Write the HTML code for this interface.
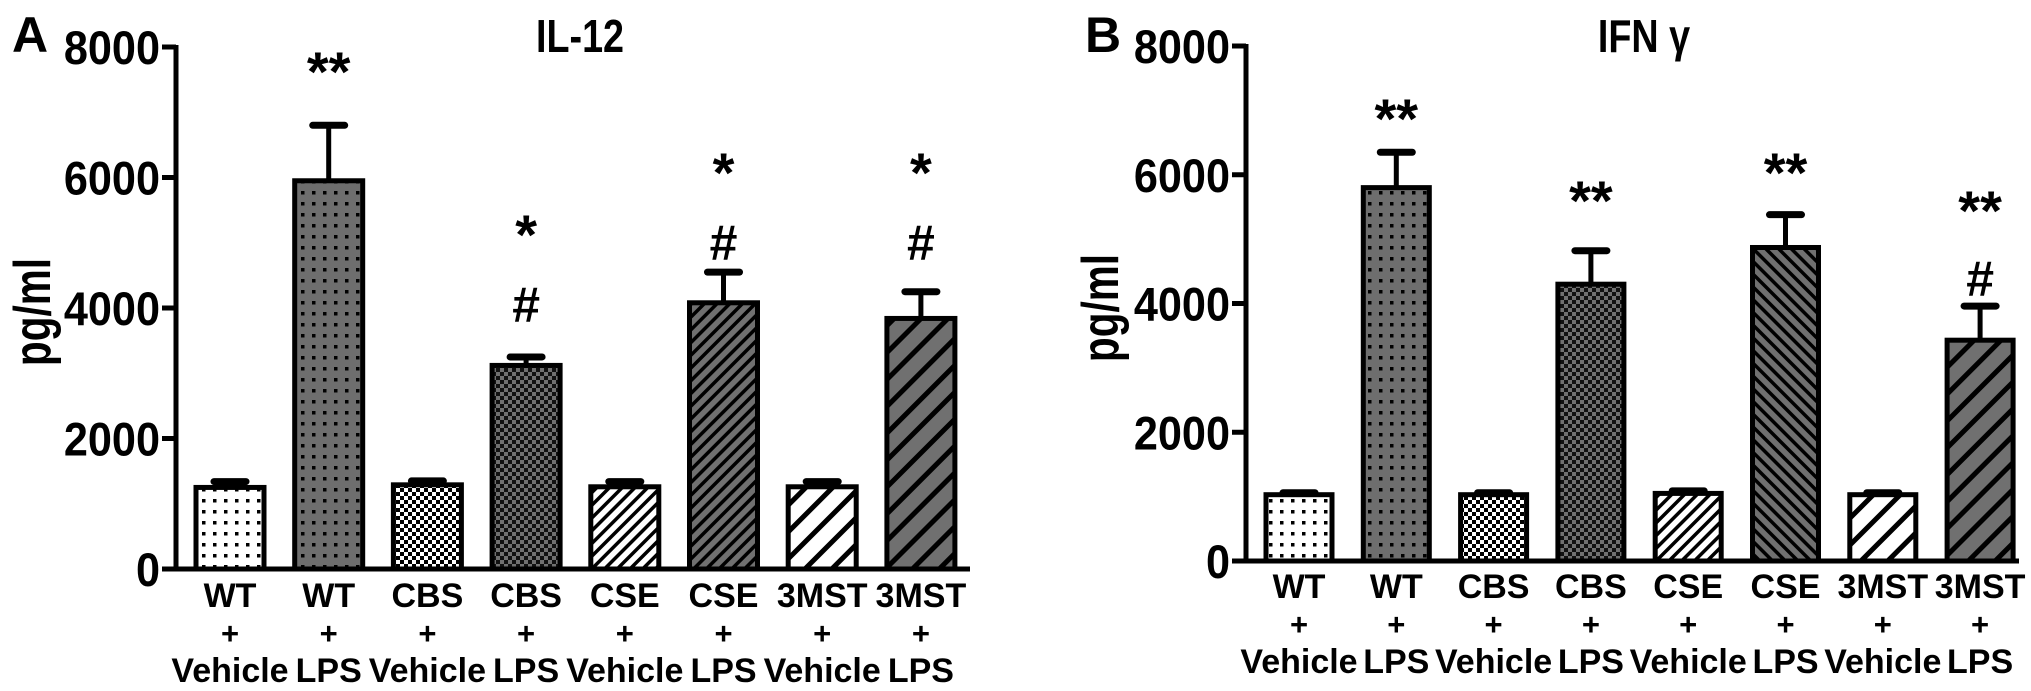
<!DOCTYPE html>
<html><head><meta charset="utf-8"><style>
html,body{margin:0;padding:0;background:#fff;}
svg{display:block;}
text{font-family:"Liberation Sans Narrow","Liberation Sans",sans-serif;font-weight:bold;fill:#000;}
</style></head><body>
<svg id="chart" width="2031" height="691" viewBox="0 0 2031 691" xmlns="http://www.w3.org/2000/svg">
<defs>
<pattern id="pDotW" width="11" height="11" patternUnits="userSpaceOnUse"><rect width="11" height="11" fill="#fff"/><rect x="4" y="4" width="3.5" height="3.5" fill="#000"/></pattern>
<pattern id="pDotG" width="11" height="11" patternUnits="userSpaceOnUse"><rect width="11" height="11" fill="#6e6e6e"/><rect x="4" y="4" width="3.5" height="3.5" fill="#000"/></pattern>
<pattern id="pChkW" width="8" height="8" patternUnits="userSpaceOnUse"><rect width="8" height="8" fill="#fff"/><rect width="4" height="4" fill="#000"/><rect x="4" y="4" width="4" height="4" fill="#000"/></pattern>
<pattern id="pChkG" width="8" height="8" patternUnits="userSpaceOnUse"><rect width="8" height="8" fill="#707070"/><rect width="4" height="4" fill="#111"/><rect x="4" y="4" width="4" height="4" fill="#111"/></pattern>
<pattern id="pFineW" width="9" height="9" patternUnits="userSpaceOnUse" patternTransform="rotate(45)"><rect width="9" height="9" fill="#fff"/><rect width="3.5" height="9" fill="#000"/></pattern>
<pattern id="pFineG" width="9" height="9" patternUnits="userSpaceOnUse" patternTransform="rotate(45)"><rect width="9" height="9" fill="#707070"/><rect width="3.5" height="9" fill="#000"/></pattern>
<pattern id="pFineGb" width="9" height="9" patternUnits="userSpaceOnUse" patternTransform="rotate(-45)"><rect width="9" height="9" fill="#707070"/><rect width="3.5" height="9" fill="#000"/></pattern>
<pattern id="pWideW" width="19" height="19" patternUnits="userSpaceOnUse" patternTransform="rotate(45)"><rect width="19" height="19" fill="#fff"/><rect width="5" height="19" fill="#000"/></pattern>
<pattern id="pWideG" width="19" height="19" patternUnits="userSpaceOnUse" patternTransform="rotate(45)"><rect width="19" height="19" fill="#707070"/><rect width="5" height="19" fill="#000"/></pattern>
</defs>
</svg>
<script>
const categories = ["WT","WT","CBS","CBS","CSE","CSE","3MST","3MST"];
const treatments = ["Vehicle","LPS","Vehicle","LPS","Vehicle","LPS","Vehicle","LPS"];
const yTicks = [0,2000,4000,6000,8000];
const il12Values = [1250,5950,1290,3120,1260,4080,1260,3840];
const il12Errors = [90,850,60,130,80,470,80,410];
const il12Stars = ["","**","","*","","*","","*"];
const il12Hash = ["","","","#","","#","","#"];
const ifnValues = [1030,5800,1030,4300,1050,4870,1030,3430];
const ifnErrors = [30,550,30,520,40,510,30,530];
const ifnStars = ["","**","","**","","**","","**"];
const ifnHash = ["","","","","","","","#"];

const svg = document.getElementById('chart');
const NS = 'http://www.w3.org/2000/svg';
function mk(tag, attrs, parent){
  const e = document.createElementNS(NS, tag);
  for (const k in attrs) e.setAttribute(k, attrs[k]);
  (parent||svg).appendChild(e); return e;
}

function drawPanel(cfg){
  const g = mk('g', {});
  
  
  const y = v => cfg.y0 - (v/8000)*(cfg.y0 - cfg.y8000);
  const x = i => cfg.x0 + i*cfg.step;
  cfg.values.forEach((v,i)=>{
    const cx = x(i), top = y(v), err = y(v + cfg.errors[i]);
    const eb = mk('g', {}, g);
    
    
    mk('line', {x1:cx, x2:cx, y1:top, y2:err, stroke:'#000','stroke-width':5}, eb);
    mk('line', {x1:cx-16, x2:cx+16, y1:err, y2:err, stroke:'#000','stroke-width':7,'stroke-linecap':'round'}, eb);
    const r = mk('rect', {x:cx-cfg.bw/2, y:top, width:cfg.bw, height:cfg.y0-top, fill:'url(#'+cfg.fills[i]+')', stroke:'#000','stroke-width':5}, g);
    
    
    const l1 = mk('text', {x:cx, y:cfg.labY, 'font-size':34, 'text-anchor':'middle'}, g); l1.textContent = categories[i];
    
    
    const l2 = mk('text', {x:cx, y:cfg.labY+37, 'font-size':31, 'text-anchor':'middle'}, g); l2.textContent = '+';
    
    
    const l3 = mk('text', {x:cx, y:cfg.labY+75, 'font-size':34, 'text-anchor':'middle'}, g); l3.textContent = treatments[i];
    
    
    if (cfg.stars[i]) {
      const s = mk('text', {x:cx, y:cfg.starY[i]+6, 'font-size':56, 'text-anchor':'middle','font-family':'Liberation Sans'}, g); s.textContent = cfg.stars[i];
      
      
    }
    if (cfg.hash[i]) {
      const h = mk('text', {x:cx, y:cfg.hashY[i]+4, 'font-size':50, 'text-anchor':'middle','font-weight':'normal','font-family':'Liberation Sans'}, g); h.textContent = cfg.hash[i];
      
      
    }
  });
  const ya = mk('line', {x1:cfg.ax, x2:cfg.ax, y1:cfg.y8000-2, y2:cfg.y0+2, stroke:'#000','stroke-width':5}, g);
  
  
  const xa = mk('line', {x1:cfg.ax-14, x2:cfg.xEnd, y1:cfg.y0, y2:cfg.y0, stroke:'#000','stroke-width':5}, g);
  
  
  yTicks.forEach(t=>{
    mk('line', {x1:cfg.ax-14, x2:cfg.ax, y1:y(t), y2:y(t), stroke:'#000','stroke-width':5}, g);
    const tl = mk('text', {x:0, y:0, 'font-size':47, 'text-anchor':'end', transform:'translate('+(cfg.ax-16)+','+(y(t)+17)+') scale(0.92,1)'}, g); tl.textContent = t;
    
    
  });
  const yl = mk('text', {x:0, y:0, 'font-size':52, 'text-anchor':'middle','font-family':'Liberation Sans', transform:'translate('+(cfg.ylabX+4)+','+cfg.ylabY+') rotate(-90) scale(0.78,1)'}, g);
  yl.textContent = 'pg/ml';
  
  
  const ti = mk('text', {x:0, y:0, 'font-size':46, 'text-anchor':'middle','font-family':'Liberation Sans', transform:'translate('+cfg.titleX+',52) scale(0.82,1)'}, g);
  ti.textContent = cfg.title;
  
  
  const pl = mk('text', {x:cfg.letterX, y:52, 'font-size':50, 'font-family':'Liberation Sans'}, g);
  pl.textContent = cfg.letter;
  
  
}

drawPanel({id:'il12', values:il12Values, errors:il12Errors, stars:il12Stars, hash:il12Hash,
  starY:[0,85,0,248,0,186,0,186], hashY:[0,0,0,318,0,256,0,256],
  fills:['pDotW','pDotG','pChkW','pChkG','pFineW','pFineG','pWideW','pWideG'],
  x0:230, step:98.7, bw:68, y0:569, y8000:47, ax:176, xEnd:970, labY:607,
  ylabX:46, ylabY:312, titleX:580, title:'IL-12', letterX:12, letter:'A'});
drawPanel({id:'ifn', values:ifnValues, errors:ifnErrors, stars:ifnStars, hash:ifnHash,
  starY:[0,132,0,214,0,186,0,224], hashY:[0,0,0,0,0,0,0,292],
  fills:['pDotW','pDotG','pChkW','pChkG','pFineW','pFineGb','pWideW','pWideG'],
  x0:1299, step:97.3, bw:66, y0:561, y8000:46, ax:1246, xEnd:2019, labY:598,
  ylabX:1114, ylabY:308, titleX:1644, title:'IFN γ', letterX:1085, letter:'B'});
</script>
</body></html>
